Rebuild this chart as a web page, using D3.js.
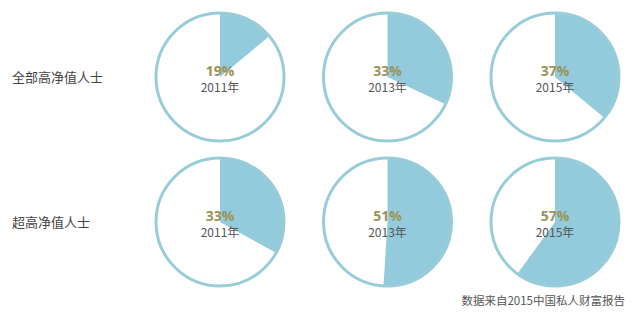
<!DOCTYPE html>
<html>
<head>
<meta charset="utf-8">
<script src="https://cdn.jsdelivr.net/npm/d3@7"></script>
<style>
  body { margin: 0; background: #fff; }
  svg { display: block; font-family: "Noto Sans CJK SC", "Noto Sans", sans-serif; }
</style>
</head>
<body>
<div id="chart"></div>
<script>
// pie grid: two groups x three years

var rowLabels = ["全部高净值人士", "超高净值人士"];
var years = ["2011年", "2013年", "2015年"];
var pctLabels = [[19, 33, 37], [33, 51, 57]];
// slice size as drawn in the picture (first one is drawn smaller than its label)
var drawnShare = [[14, 32, 36], [33, 51, 60]];
var source = "数据来自2015中国私人财富报告";

var W = 640, H = 319;
var svg = d3.select("#chart").append("svg").attr("width", W).attr("height", H);

var xScale = d3.scalePoint().domain(years).range([220, 555]);
var yScale = d3.scalePoint().domain(rowLabels).range([77, 222]);
var r = 64;

var arc = d3.arc().innerRadius(0).outerRadius(r);
var pie = d3.pie().sort(null).value(function(d){ return d; });

rowLabels.forEach(function(row, i){
  svg.append("text").attr("x", 12).attr("y", yScale(row) + 1)
    .attr("dominant-baseline", "middle")
    .style("font-size", "13px").style("fill", "#444").text(row);

  years.forEach(function(yr, j){
    var g = svg.append("g").attr("transform", "translate(" + xScale(yr) + "," + yScale(row) + ")");
    var share = drawnShare[i][j];
    g.append("circle").attr("r", r).attr("fill", "#fff");
    g.append("path").attr("d", arc(pie([share, 100 - share])[0])).attr("fill", "#94cbdc");
    g.append("circle").attr("r", r).attr("fill", "none").attr("stroke", "#98ccd9").attr("stroke-width", 3);

    g.append("text").attr("y", -5).attr("text-anchor", "middle").attr("dominant-baseline", "middle")
      .style("font-size", "14px").style("font-weight", "bold").style("fill", "#9b9457")
      .style("font-family", "'Open Sans', 'Noto Sans', sans-serif")
      .text(pctLabels[i][j] + "%");
    g.append("text").attr("y", 12).attr("text-anchor", "middle").attr("dominant-baseline", "middle")
      .style("font-size", "12px").style("fill", "#555").text(yr);
  });
});

svg.append("text").attr("x", 625).attr("y", 302).attr("text-anchor", "end").attr("dominant-baseline", "middle")
  .style("font-size", "11.5px").style("fill", "#555").text(source);
</script>
</body>
</html>
